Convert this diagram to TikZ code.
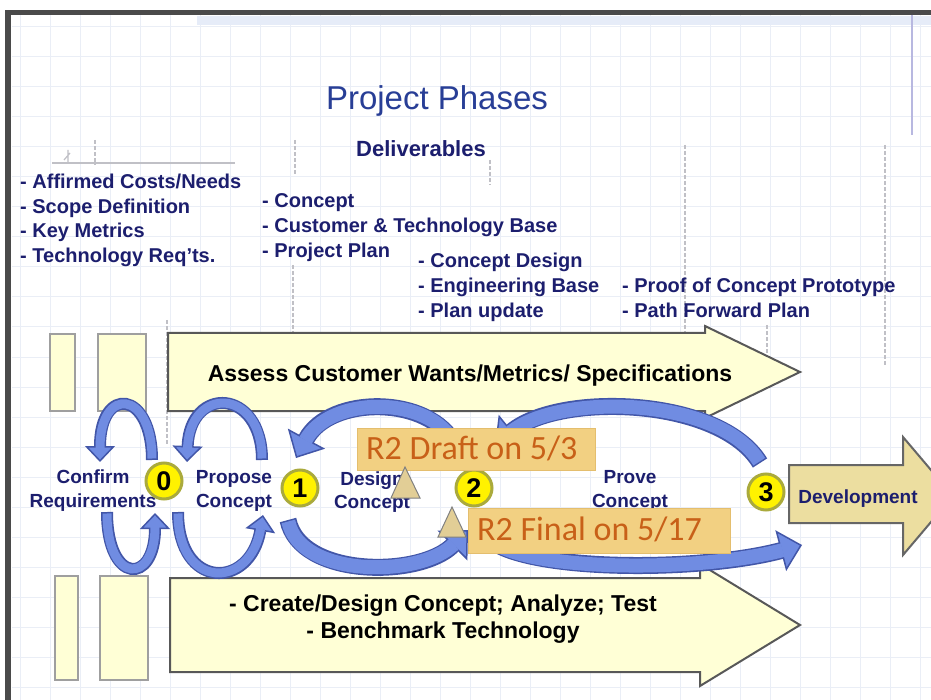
\documentclass[tikz,border=0pt]{standalone}
\usepackage{fontspec}
\setmainfont{Liberation Sans}
\newfontfamily\calib{Carlito}
\usetikzlibrary{arrows.meta}
\definecolor{navy}{RGB}{28,30,110}
\definecolor{titleblue}{RGB}{40,62,150}
\definecolor{gridc}{RGB}{234,238,246}
\definecolor{bandc}{RGB}{230,236,248}
\definecolor{framec}{RGB}{74,74,74}
\definecolor{cream}{RGB}{255,255,214}
\definecolor{boxedge}{RGB}{88,88,88}
\definecolor{arcfill}{RGB}{112,140,226}
\definecolor{arcedge}{RGB}{66,86,168}
\definecolor{calfill}{RGB}{242,208,130}
\definecolor{caledge}{RGB}{228,190,110}
\definecolor{caltext}{RGB}{200,96,24}
\definecolor{triFill}{RGB}{226,206,150}
\definecolor{devfill}{RGB}{236,222,160}
\definecolor{circedge}{RGB}{170,170,60}
\definecolor{guide}{RGB}{192,192,198}
\newcommand\bigribbon[1]{\draw[rbOuterBig] #1; \draw[rbInnerBig] #1;}
\newcommand\smallribbon[1]{\draw[rbOuterSmall] #1; \draw[rbInnerSmall] #1;}
\tikzset{
  listtxt/.style={anchor=base west, inner sep=0pt, text=navy, font=\fontsize{20}{24}\selectfont\bfseries},
  phase/.style={anchor=base, inner sep=0pt, text=navy, font=\fontsize{19}{23}\selectfont\bfseries},
  bigtext/.style={anchor=base, inner sep=0pt, text=black, font=\fontsize{23}{27}\selectfont\bfseries},
  num/.style={circle, fill=yellow, draw=circedge, line width=3pt, minimum size=36pt, inner sep=0pt, font=\fontsize{27}{27}\selectfont\bfseries},
  callout/.style={fill=calfill, draw=caledge, line width=1pt, inner sep=0pt, anchor=north west},
  caltxt/.style={anchor=base west, inner sep=0pt, text=caltext, font=\calib\fontsize{34}{36}\selectfont},
  arrowshape/.style={fill=cream, draw=boxedge, line width=2pt, line join=miter},
  smallbox/.style={fill=cream, draw=gray!75, line width=2pt},
  guideline/.style={draw=guide, line width=1.5pt, dash pattern=on 4pt off 2pt},
  gridline/.style={draw=gridc, line width=1pt},
  tri/.style={fill=triFill, draw=gray, line width=1pt, line join=miter},
  rbOuterBig/.style={draw=arcedge, line width=17pt, -{Triangle[length=22pt,width=42pt,line width=1.5pt,fill=arcfill]}},
  rbInnerBig/.style={draw=arcfill, line width=14pt, shorten >=20pt, shorten <=1.5pt},
  rbOuterSmall/.style={draw=arcedge, line width=12pt, -{Triangle[length=16pt,width=30pt,line width=1.5pt,fill=arcfill]}},
  rbInnerSmall/.style={draw=arcfill, line width=9pt, shorten >=14pt, shorten <=1.5pt}
}
\begin{document}
\begin{tikzpicture}[x=1pt,y=-1pt]
\useasboundingbox (0,0) rectangle (931,700);
\clip (0,0) rectangle (931,700);
\fill[white] (0,0) rectangle (931,700);
% grid
\foreach \gx in {20,50,...,920} \draw[gridline] (\gx,15) -- (\gx,700);
\foreach \gy in {27,57,...,697} \draw[gridline] (12,\gy) -- (931,\gy);
\fill[bandc] (197,16) rectangle (931,25);
% frame
\fill[framec] (5,10) rectangle (11,700);
\fill[framec] (5,10) rectangle (931,15);
\draw[draw=gray!60!blue!40, line width=1.5pt] (912,15) -- (912,135);
% guide marks
\draw[guide, line width=1.5pt] (52,163) -- (235,163);
\draw[guide, line width=1.2pt] (68,150) -- (68,163) (64,160) -- (70,153);
\draw[guideline] (95,140) -- (95,165);
\draw[guideline] (295,140) -- (295,175);
\draw[guideline] (293,265) -- (293,335);
\draw[guideline] (490,160) -- (490,185);
\draw[guideline] (685,145) -- (685,345);
\draw[guideline] (885,145) -- (885,365);
\draw[guideline] (767,325) -- (767,365);
\draw[guideline] (167,320) -- (167,445);
% title
\node[anchor=base, inner sep=0pt, text=titleblue, font=\fontsize{33}{36}\selectfont] (title) at (437,110) {Project Phases};
\node[anchor=base, inner sep=0pt, text=navy, font=\fontsize{22}{24}\selectfont\bfseries] (deliv) at (421,157) {Deliverables};
% deliverable lists
\node[listtxt] (l1a) at (20,189) {- Affirmed Costs/Needs};
\node[listtxt] (l1b) at (20,213.5) {- Scope Definition};
\node[listtxt] (l1c) at (20,238) {- Key Metrics};
\node[listtxt] (l1d) at (20,262.5) {- Technology Req'ts.};
\node[listtxt] (l2a) at (262,208) {- Concept};
\node[listtxt] (l2b) at (262,233) {- Customer \& Technology Base};
\node[listtxt] (l2c) at (262,258) {- Project Plan};
\node[listtxt] (l3a) at (418,268) {- Concept Design};
\node[listtxt] (l3b) at (418,293) {- Engineering Base};
\node[listtxt] (l3c) at (418,318) {- Plan update};
\node[listtxt] (l4a) at (622,293) {- Proof of Concept Prototype};
\node[listtxt] (l4b) at (622,318) {- Path Forward Plan};
% small boxes
\draw[smallbox] (50,334) rectangle (75,411);
\draw[smallbox] (98,334) rectangle (146,411);
\draw[smallbox] (55,576) rectangle (78,680);
\draw[smallbox] (100,576) rectangle (148,680);
% big block arrows
\draw[arrowshape] (168,333) -- (705,333) -- (705,326) -- (800,372) -- (705,418) -- (705,411) -- (168,411) -- cycle;
\draw[arrowshape] (170,578) -- (700,578) -- (700,564) -- (800,625) -- (700,686) -- (700,672) -- (170,672) -- cycle;
\node[bigtext] (assess) at (470,381) {Assess Customer Wants/Metrics/ Specifications};
\node[bigtext] (create) at (443,611) {- Create/Design Concept; Analyze; Test};
\node[bigtext] (bench) at (443,638) {- Benchmark Technology};
% curved arrows
\smallribbon{(152,460) .. controls (152,390) and (100,385) .. (100,462)}
\smallribbon{(262,460) .. controls (262,388) and (190,385) .. (187,462)}
\smallribbon{(107,512) .. controls (107,585) and (155,585) .. (155,513)}
\smallribbon{(178,512) .. controls (178,590) and (250,590) .. (263,515)}
\bigribbon{(455,445) .. controls (430,395) and (330,395) .. (296,458)}
\bigribbon{(760,463) .. controls (720,397) and (560,392) .. (495,445)}
\bigribbon{(288,520) .. controls (300,578) and (420,578) .. (468,530)}
\bigribbon{(490,540) .. controls (530,572) and (700,572) .. (802,545)}
% development arrow
\draw[fill=devfill, draw=gray!80!black, line width=2pt, line join=miter] (789,465) -- (903,465) -- (903,437) -- (953,496) -- (903,555) -- (903,523) -- (789,523) -- cycle;
\node[anchor=base, inner sep=0pt, text=navy, font=\fontsize{19}{22}\selectfont\bfseries] (dev) at (858,503) {Development};
% phase labels
\node[phase] (confA) at (93,483) {Confirm};
\node[phase] (confB) at (93,507) {Requirements};
\node[phase] (propA) at (234,483) {Propose};
\node[phase] (propB) at (234,507) {Concept};
\node[phase] (desA) at (372,485) {Design};
\node[phase] (desB) at (372,508) {Concept};
\node[phase] (provA) at (630,483) {Prove};
\node[phase] (provB) at (630,507) {Concept};
% milestone circles
\node[num] (c0) at (164,481) {0};
\node[num] (c1) at (300,488) {1};
\node[num] (c2) at (474,488) {2};
\node[num] (c3) at (766,492) {3};
% callouts
\node[callout, minimum width=238pt, minimum height=42pt] (draft) at (357,428) {};
\node[caltxt] (draftT) at (366,459) {R2 Draft on 5/3};
\node[callout, minimum width=262pt, minimum height=45pt] (final) at (468,508) {};
\node[caltxt] (finalT) at (477,540) {R2 Final on 5/17};
% triangles
\draw[tri] (405,467) -- (420,498) -- (391,498) -- cycle;
\draw[tri] (452,507) -- (466,537) -- (438,537) -- cycle;
\end{tikzpicture}
\end{document}
